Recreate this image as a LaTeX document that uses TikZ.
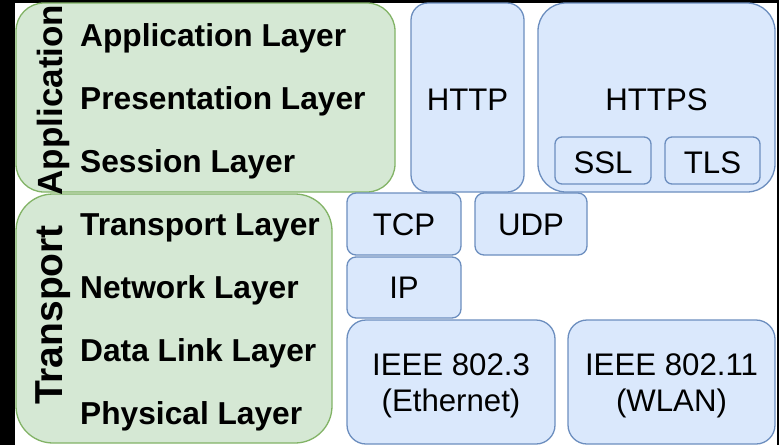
\documentclass[tikz,border=0pt]{standalone}
\usepackage{fontspec}
\setmainfont{Liberation Sans}
\begin{document}
\begin{tikzpicture}[x=1pt,y=-1pt,
  greenbox/.style={draw=grnline, fill=grnfill, line width=1.3pt, inner sep=0pt},
  bluebox/.style={draw=bluline, fill=blufill, line width=1.3pt, inner sep=0pt},
  layertext/.style={anchor=base west, inner sep=0pt, font=\fontsize{31.7}{38}\selectfont\bfseries},
  grouptext/.style={anchor=base, rotate=90, inner sep=0pt, font=\fontsize{35}{42}\selectfont\bfseries},
  prototext/.style={anchor=base, inner sep=0pt, font=\fontsize{31.2}{38}\selectfont},
  box/.style args={#1x#2r#3}{minimum width=#1pt, minimum height=#2pt, rounded corners=#3pt}
]
\definecolor{grnfill}{HTML}{D5E8D4}
\definecolor{grnline}{HTML}{82B366}
\definecolor{blufill}{HTML}{DAE8FC}
\definecolor{bluline}{HTML}{6C8EBF}

% canvas
\fill[black] (0,0) rectangle (779,445);
\fill[white] (15,3) rectangle (777,445);
\useasboundingbox (0,0) rectangle (779,445);

% OSI layer groups
\node[greenbox, box=379x189r28] (app) at (205.5,97.5) {};
\node[greenbox, box=316x249r37] (trans) at (174,318.5) {};

% protocol boxes
\node[bluebox, box=113x189r17] (http) at (467.5,97.5) {};
\node[bluebox, box=237x189r28] (https) at (656.5,97.5) {};
\node[bluebox, box=96x47r7] (ssl) at (603,160.5) {};
\node[bluebox, box=95x47r7] (tls) at (712.5,160.5) {};
\node[bluebox, box=114x62r9] (tcp) at (404,224) {};
\node[bluebox, box=112x62r9] (udp) at (531,224) {};
\node[bluebox, box=114x61r9] (ip) at (404,287.5) {};
\node[bluebox, box=208x124r19] (eth) at (451,382) {};
\node[bluebox, box=207x124r19] (wlan) at (671.5,382) {};

% group labels
\node[grouptext] (appT) at (62,100) {Application};
\node[grouptext, font=\fontsize{39}{46}\selectfont\bfseries] (transT) at (62,315) {Transport};

% layer names
\node[layertext] (l7) at (80,46) {Application Layer};
\node[layertext] (l6) at (80,109) {Presentation Layer};
\node[layertext] (l5) at (80,172) {Session Layer};
\node[layertext] (l4) at (80,235) {Transport Layer};
\node[layertext] (l3) at (80,298) {Network Layer};
\node[layertext] (l2) at (80,361) {Data Link Layer};
\node[layertext] (l1) at (80,424) {Physical Layer};

% protocol names
\node[prototext] (httpT) at (http.center |- 0,110) {HTTP};
\node[prototext] (httpsT) at (https.center |- 0,110) {HTTPS};
\node[prototext] (sslT) at (ssl.center |- 0,173) {SSL};
\node[prototext] (tlsT) at (tls.center |- 0,173) {TLS};
\node[prototext] (tcpT) at (tcp.center |- 0,235) {TCP};
\node[prototext] (udpT) at (udp.center |- 0,235) {UDP};
\node[prototext] (ipT) at (ip.center |- 0,298) {IP};
\node[prototext] (ethA) at (eth.center |- 0,375) {IEEE 802.3};
\node[prototext] (ethB) at (eth.center |- 0,411) {(Ethernet)};
\node[prototext] (wlanA) at (wlan.center |- 0,375) {IEEE 802.11};
\node[prototext] (wlanB) at (wlan.center |- 0,411) {(WLAN)};
\end{tikzpicture}
\end{document}
